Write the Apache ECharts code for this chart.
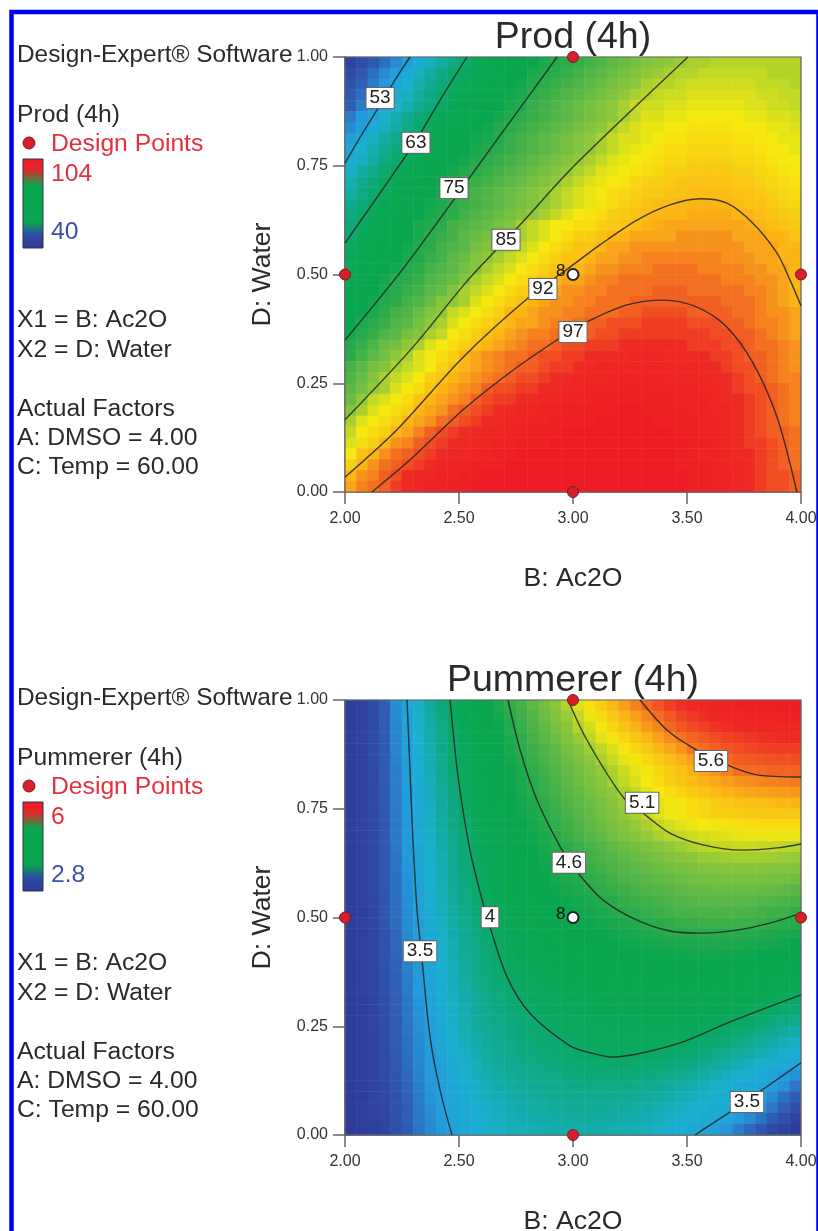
<!DOCTYPE html>
<html><head><meta charset="utf-8">
<style>html,body{margin:0;padding:0;background:#fff}#c{width:818px;height:1231px}</style>
<script src="https://cdn.jsdelivr.net/npm/echarts@6/dist/echarts.min.js"></script>
</head><body><div id="c"></div>
<script>
// Prod (4h): 40 rows (top y=1 to bottom y=0) x 40 columns (x=2 to 4)
const prodValues = [
[43,45,47,49,51,53,55,57,59,61,63,65,66,68,69,71,72,74,75,76,77,78,79,80,81,82,83,83.5,84,84.5,85,85,85.5,85.5,85.5,85.5,85.5,85.5,85.5,85.5],
[45,47,49,51,53,55,57,59,61,63,64,66,67,69,71,72,74,75,76,77,78,79,80,81,82,83,84,84.5,85,85.5,85.5,86,86,86,86,86,86,85.5,85.5,85.5],
[46,48,50,52,54,56,58,60,62,64,65,67,69,70,72,73,75,76,77,78,79,80,81,82,83,84,85,85.5,85.5,86,86.5,86.5,86.5,86.5,86.5,86.5,86,86,86,85.5],
[47,49,51,53,55,57,59,61,63,65,67,68,70,71,73,74,76,77,78,79,80,81,82,83,84,85,85.5,86,86.5,86.5,87,87,87,87,87,87,86.5,86.5,86,86],
[48,50,52,54,56,58,60,62,64,66,68,69,71,72,74,75,77,78,79,80,81,82,83,84,85,86,86.5,86.5,87,87,87.5,87.5,87.5,87.5,87.5,87,87,86.5,86.5,86],
[50,52,54,56,58,60,62,64,66,67,69,70,72,73,75,76,77,78,79,80,81,82,83,84,85,86,87,87,87.5,87.5,88,88,88,88,88,87.5,87.5,87,87,86.5],
[51,53,55,57,59,61,63,65,66,68,70,71,73,75,76,77,78,79,80,81,82,83,84,85,86,87,87.5,87.5,88,88,88.5,88.5,88.5,88.5,88,88,88,87.5,87.5,87],
[53,55,57,59,61,62,64,66,68,70,71,73,74,75,77,78,79,80,81,82,83,84,85,86,87,87,87.5,88,88.5,88.5,89,89,89,89,88.5,88.5,88,88,87.5,87.5],
[54,56,58,60,62,64,66,67,69,71,72,74,75,76,77,78,79,80,81,82,83,84,85,86,87,87.5,88,88.5,89,89,89.5,89.5,89.5,89.5,89,89,88.5,88,88,87.5],
[55,57,59,61,63,65,67,68,70,71,73,75,76,77,78,79,80,81,82,83,84,85,86,87,87.5,88,88.5,89,89.5,89.5,90,90,90,90,89.5,89.5,89,88.5,88,88],
[57,59,61,63,65,67,69,70,72,73,75,76,77,78,79,80,81,82,83,84,85,86,87,87.5,88,88.5,89,89.5,90,90,90.5,90.5,90.5,90.5,90,90,89.5,89,88.5,88],
[58,60,62,64,66,68,70,71,73,74,76,77,78,79,80,81,82,83,84,85,86,87,87.5,88,88.5,89.5,90,90,90.5,91,91,91,91,91,90.5,90.5,90,89.5,89,88.5],
[59,61,63,65,67,69,71,72,74,75,77,78,79,80,81,82,83,84,85,86,87,87.5,88,89,89.5,90,90.5,90.5,91,91,91.5,91.5,91.5,91.5,91,91,90.5,90,89.5,89],
[60,62,64,66,68,70,71,73,74,76,77,78,79,80,81,82,83,84,85,86,87,87.5,88.5,89,90,90.5,91,91.5,91.5,92,92,92,92,92,91.5,91,91,90.5,90,89.5],
[61,63,65,67,69,71,72,74,75,76,78,79,80,81,82,83,84,85,86,87,88,88.5,89,90,90.5,91,91.5,92,92,92,92.5,92.5,92.5,92.5,92,92,91.5,91,90.5,90],
[62,64,66,68,70,72,74,75,76,78,79,80,81,82,83,85,86,87,88,88,89,89,90,90.5,91,91.5,92,92.5,93,93,93,93,93,93,93,92.5,92,91.5,91,90.5],
[63,65,67,69,71,72,74,76,77,78,80,81,82,83,84,85,86,87,88,89,90,90,91,92,92,93,93,93,93,94,94,94,94,94,93,93,93,92,92,91],
[64,66,68,70,72,73,75,76,78,79,80,82,83,84,85,86,87,88,89,90,91,91,92,93,93,94,94,94,94,94,94,94,94,94,94,93,93,93,92,92],
[65,67,69,70,72,74,75,77,78,80,81,83,84,85,86,87,88,89,90,91,91,92,93,93,94,94,95,95,95,95,95,95,95,94,94,94,93,93,92,92],
[66,68,70,71,73,75,76,78,79,80,82,83,85,86,87,88,89,90,91,92,92,93,94,94,95,95,95,96,96,96,96,95,95,95,95,94,94,93,93,92],
[67,69,71,73,75,76,77,79,80,81,83,85,86,87,88,89,90,91,92,93,93,94,95,95,96,96,96,96,96,96,96,96,96,95,95,95,94,94,93,92],
[68,70,72,74,75,77,78,80,81,83,85,86,87,88,89,90,91,92,93,94,94,95,95,96,96,96,96,97,97,97,96,96,96,96,96,95,95,94,93,92],
[69,71,73,75,76,78,79,81,83,84,85,87,88,89,90,91,92,93,94,94,95,95,96,96,96,97,97,97,97,97,97,97,97,96,96,96,95,94,93,92],
[70,72,74,76,78,79,81,83,84,86,87,88,89,90,92,92,93,94,94,95,95,96,96,96,97,97,98,98,98,98,97,97,97,97,96,96,95,94,94,93],
[71,74,76,77,79,80,82,84,85,87,88,89,90,91,92,93,93,94,95,95,96,97,97,98,98,98,99,99,99,99,98,98,98,97,97,96,95,95,94,93],
[73,75,77,79,80,82,83,85,86,88,89,90,91,92,93,94,95,95,96,96,97,97,98,98,99,99,99,99,99,99,99,99,98,98,97,97,96,95,94,93],
[75,77,79,81,82,84,85,87,88,89,90,91,92,93,94,95,96,96,97,98,98,99,99,99,100,100,100,100,100,100,99,99,99,98,98,97,96,96,95,94],
[76,78,80,82,84,85,87,88,89,90,92,93,94,95,96,96,97,98,98,99,99,100,100,100,100,101,101,101,100,100,100,100,99,99,98,97,97,96,95,94],
[78,80,82,83,85,86,87,88,90,91,92,93,94,95,96,97,97,98,99,99,100,100,101,101,101,101,101,101,101,101,101,100,100,99,98,98,97,96,95,94],
[79,81,83,85,86,87,88,90,91,92,93,94,95,96,97,98,98,99,100,100,101,101,101,102,102,102,102,102,101,101,101,101,100,100,99,98,97,96,95,95],
[80,82,84,85,87,88,89,91,92,93,94,95,97,98,98,99,99,100,100,101,101,102,102,102,103,103,102,102,102,102,102,101,101,100,99,98,98,97,96,95],
[81,84,86,87,88,89,91,92,93,94,95,97,98,99,99,100,100,101,101,102,102,102,103,103,103,103,103,103,103,102,102,102,101,100,100,99,98,97,96,95],
[83,85,87,88,89,90,92,93,94,96,97,98,99,100,100,101,101,102,102,103,103,103,103,103,104,104,103,103,103,103,102,102,101,101,100,99,98,97,96,95],
[85,87,88,89,90,92,93,94,96,97,98,99,100,100,101,101,102,102,103,103,103,103,104,104,104,104,104,103,103,103,103,102,102,101,100,99,98,97,96,95],
[86,88,89,90,92,93,95,97,98,99,100,100,101,101,102,102,103,103,103,104,104,104,104,104,104,104,104,104,104,103,103,102,102,101,100,99,98,97,97,96],
[87,89,90,92,94,95,97,98,99,100,100,101,101,102,102,103,103,103,104,104,104,104,104,104,104,104,104,104,104,104,103,103,102,101,100,99,99,98,97,96],
[88,91,92,94,96,97,98,99,100,101,101,102,102,103,103,104,104,104,104,104,104,104,104,104,104,104,104,104,104,103,103,102,102,101,100,100,99,98,97,96],
[90,92,94,96,97,98,99,100,101,102,102,103,103,103,104,104,104,104,104,104,104,104,104,104,104,104,104,104,104,103,103,103,102,101,101,100,99,98,97,96],
[92,94,95,97,98,100,101,101,102,102,103,103,104,104,104,104,104,104,104,104,104,104,104,104,104,104,104,104,104,104,103,103,102,102,101,100,99,98,98,97],
[93,95,96,97,99,100,101,102,102,103,103,104,104,104,104,104,104,104,104,104,104,104,104,104,104,104,104,104,104,104,103,103,102,102,101,100,99,98,98,97]
];
// Pummerer (4h), in hundredths: 40 rows (top y=1 to bottom y=0) x 40 columns
const pummererHundredths = [
[288,296,306,320,336,351,364,377,390,403,415,427,439,451,462,471,480,489,498,507,515,523,531,539,547,555,562,568,574,579,583,586,589,591,593,595,596,597,598,598],
[288,296,306,319,335,349,362,375,388,401,413,424,435,447,458,467,476,485,494,502,510,518,526,533,540,547,554,561,567,572,576,579,582,584,586,588,589,590,591,592],
[288,296,305,319,334,348,361,373,386,398,410,421,432,443,455,464,473,482,491,499,507,513,521,528,535,541,548,554,562,567,571,574,577,579,581,583,584,585,586,586],
[288,295,305,318,333,347,360,372,384,396,408,419,430,441,452,461,470,478,486,494,502,509,516,522,528,534,540,546,552,558,563,567,570,573,575,577,578,579,580,580],
[288,295,305,318,333,347,359,371,383,395,406,416,427,438,449,458,466,474,481,489,496,503,509,515,521,527,533,539,545,550,558,561,565,568,570,572,574,575,575,575],
[288,295,305,318,332,346,358,370,382,394,405,415,426,436,447,456,464,472,479,486,493,499,505,511,517,522,527,532,537,542,547,552,558,562,565,567,568,569,569,570],
[288,295,304,317,331,345,357,369,381,393,403,413,423,433,443,452,461,469,476,483,489,495,501,506,512,517,522,527,532,536,541,546,551,555,560,561,562,563,563,564],
[288,295,304,317,331,344,356,368,379,391,401,411,421,431,441,450,459,466,473,480,487,493,498,504,510,515,520,525,530,534,538,541,544,547,550,552,554,555,556,557],
[288,295,304,316,330,343,355,367,378,389,399,409,419,429,439,448,456,464,471,477,483,489,495,500,506,511,516,520,524,528,532,535,538,541,543,545,546,547,548,549],
[288,295,304,316,330,342,354,366,377,388,398,408,418,427,436,445,453,461,468,474,480,486,491,497,502,507,512,516,519,522,525,528,531,533,535,536,537,538,539,540],
[288,295,303,315,329,342,354,365,376,387,397,406,416,425,433,442,450,458,465,471,477,483,489,494,500,505,511,515,519,522,525,527,529,530,531,532,533,533,533,533],
[288,295,303,315,329,342,353,364,375,386,395,404,413,422,431,439,447,455,462,468,474,480,486,491,496,501,505,510,513,516,518,520,522,523,524,525,525,525,525,525],
[288,294,303,315,328,341,352,363,374,384,393,402,411,420,428,436,444,452,459,465,471,477,483,488,493,497,501,505,508,510,512,514,515,516,517,518,518,518,518,518],
[288,294,303,315,328,340,351,362,372,382,392,401,410,418,426,434,441,448,455,460,466,471,476,481,485,489,493,497,500,503,506,508,510,510,511,511,510,510,509,508],
[288,294,302,314,327,340,351,361,371,381,391,400,408,416,424,431,439,446,452,459,464,469,473,477,481,485,488,491,494,497,499,501,502,503,504,504,504,503,502,501],
[287,294,302,314,327,339,350,360,370,380,390,398,406,414,422,429,436,443,449,454,460,465,469,473,477,480,483,486,489,491,493,495,496,497,497,497,497,496,495,494],
[287,294,302,314,326,338,349,359,369,379,388,396,404,412,420,427,434,441,447,451,456,461,465,469,473,476,479,482,484,486,488,489,490,491,491,491,491,490,489,487],
[287,294,302,313,326,338,348,358,368,378,386,394,402,410,417,424,431,437,443,448,452,456,461,465,468,471,474,477,479,481,483,484,485,485,485,485,484,483,481,479],
[287,294,301,313,325,337,347,357,367,377,385,393,401,408,415,422,428,433,438,443,447,451,455,459,463,466,469,471,473,475,477,478,479,479,479,478,477,476,474,472],
[287,293,301,312,325,336,347,356,366,375,383,391,399,406,412,418,424,429,434,439,443,447,451,454,458,461,464,466,469,471,472,473,473,473,473,472,470,468,466,463],
[287,293,301,312,324,336,346,355,365,374,382,390,397,404,410,416,421,426,431,435,439,443,446,449,452,455,458,460,462,464,465,466,467,467,467,466,464,462,459,456],
[287,293,300,311,323,335,345,354,363,372,380,388,395,402,408,413,418,423,427,431,435,438,441,444,447,450,452,454,456,457,458,458,458,458,458,457,455,453,450,448],
[287,293,300,311,323,334,344,353,362,371,379,386,393,399,405,410,415,419,423,427,431,434,437,440,442,444,446,447,449,450,450,451,451,451,450,449,447,445,442,440],
[287,292,300,310,322,333,343,352,361,370,378,385,391,397,403,408,412,416,420,424,427,430,433,435,437,439,441,442,443,444,445,445,445,444,443,442,440,438,435,432],
[286,292,299,310,321,332,342,351,360,368,376,383,389,395,400,405,409,413,417,420,423,426,428,430,432,434,436,437,438,439,439,439,439,438,437,435,433,431,428,425],
[286,292,299,309,320,331,341,350,359,367,375,382,388,393,398,402,406,410,413,416,419,422,424,426,428,430,431,432,433,433,433,433,433,432,430,428,426,424,421,418],
[286,292,298,309,320,330,340,349,358,366,373,380,386,391,395,399,403,407,410,413,416,418,420,422,424,426,427,428,428,428,428,428,427,426,424,422,419,416,413,410],
[286,291,298,308,319,329,339,348,357,365,372,378,384,388,392,396,400,403,406,409,412,414,416,418,420,421,422,423,423,423,423,422,421,420,418,416,413,410,404,399],
[286,291,298,308,319,329,338,347,356,364,371,377,382,386,390,394,397,400,403,406,408,410,412,414,415,416,417,417,417,416,415,414,413,411,409,406,402,398,394,390],
[285,291,297,307,318,328,337,346,355,363,370,376,381,385,388,391,394,397,399,401,403,405,407,408,410,411,411,411,411,410,409,408,406,404,401,398,394,390,386,382],
[285,290,297,306,317,327,336,345,353,361,368,374,379,383,386,389,392,394,396,398,400,402,403,405,406,406,407,406,406,405,404,401,399,396,393,389,385,381,377,373],
[285,290,296,306,316,326,335,344,352,359,366,372,377,381,384,387,390,392,394,396,398,400,402,403,403,403,403,402,401,400,398,396,393,390,386,382,378,374,369,365],
[285,290,296,305,315,325,334,343,351,358,364,370,375,379,382,385,387,390,392,394,396,398,399,400,400,400,399,398,396,394,392,389,386,382,378,374,370,366,361,357],
[284,290,295,305,314,324,333,342,349,356,362,368,373,377,380,383,385,387,389,391,393,394,395,396,396,395,394,392,390,388,385,382,378,374,370,366,361,357,353,349],
[284,289,295,304,313,323,332,340,348,354,360,366,371,375,378,380,382,384,386,388,389,390,391,391,390,389,388,386,384,381,378,374,370,366,361,358,355,351,345,338],
[283,289,294,303,312,322,331,339,346,352,358,363,368,372,375,377,379,381,383,384,385,386,386,386,385,384,382,380,377,374,371,367,363,360,356,353,351,346,338,328],
[283,288,294,302,311,321,330,338,345,351,356,361,366,369,372,374,376,378,380,381,382,382,382,382,381,379,377,375,372,369,366,363,359,356,353,351,344,335,326,317],
[282,288,293,301,310,320,329,337,344,350,355,359,363,367,370,372,374,375,377,378,379,379,379,378,377,375,373,371,368,365,362,359,356,354,351,344,337,328,319,308],
[282,287,292,300,309,319,328,336,343,349,354,358,362,365,368,370,372,373,374,375,376,376,375,374,373,372,370,367,364,361,358,356,353,349,342,335,327,318,308,298],
[281,286,291,299,308,318,327,335,342,348,353,357,361,364,366,368,370,371,372,373,373,373,372,371,370,369,367,364,361,358,354,351,346,339,331,323,314,304,294,284]
];
// Contours, [B: Ac2O, D: Water]
const prodContours = [
 [[2,.756],[2.075,.823],[2.154,.89],[2.219,.947],[2.285,1]],
 [[2,.572],[2.132,.671],[2.263,.77],[2.311,.807],[2.417,.901],[2.535,1]],
 [[2,.349],[2.25,.51],[2.461,.66],[2.548,.724],[2.746,.867],[2.93,1]],
 [[2,.166],[2.298,.333],[2.539,.487],[2.759,.609],[2.987,.74],[3.25,.874],[3.504,1]],
 [[2,.034],[2.228,.143],[2.518,.31],[2.803,.446],[2.987,.517],[3.118,.568],[3.281,.625],[3.425,.66],[3.557,.674],[3.675,.664],[3.789,.618],[3.895,.549],[3.952,.487],[4,.428]],
 [[2.118,0],[2.298,.08],[2.518,.189],[2.737,.28],[2.943,.354],[3.061,.391],[3.237,.43],[3.395,.441],[3.544,.425],[3.675,.379],[3.789,.297],[3.895,.172],[3.982,0]]
];
const pummererContours = [
 [[2.272,1],[2.285,.839],[2.298,.678],[2.316,.517],[2.338,.402],[2.373,.225],[2.417,.103],[2.469,0]],
 [[2.461,1],[2.496,.823],[2.548,.655],[2.605,.533],[2.636,.478],[2.711,.363],[2.811,.28],[2.987,.205],[3.075,.189],[3.175,.179],[3.307,.189],[3.482,.214],[3.689,.26],[4,.322]],
 [[2.715,1],[2.768,.885],[2.842,.77],[2.952,.655],[3.022,.602],[3.132,.54],[3.281,.494],[3.425,.469],[3.57,.464],[3.719,.471],[3.864,.487],[4,.51]],
 [[2.978,1],[3.061,.908],[3.219,.777],[3.307,.74],[3.425,.694],[3.57,.667],[3.746,.655],[3.895,.66],[4,.669]],
 [[3.294,1],[3.412,.931],[3.526,.89],[3.675,.851],[3.807,.828],[4,.823]],
 [[3.535,0],[3.689,.053],[3.842,.108],[4,.166]]
];
const prodLabels = [[2.154,.908,'53'],[2.311,.805,'63'],[2.478,.701,'75'],[2.706,.582,'85'],[2.868,.469,'92'],[3,.37,'97']];
const pummererLabels = [[2.329,.425,'3.5'],[2.636,.503,'4'],[2.982,.628,'4.6'],[3.303,.766,'5.1'],[3.605,.862,'5.6'],[3.763,.078,'3.5']];
const designPoints = [[2,.5],[3,1],[3,0],[4,.5]];
const centerPoint = [[3,.5,'8']];
const xTicks = {min:2,max:4,interval:.5};
const yTicks = {min:0,max:1,interval:.25};
const panels = [
 {title:'Prod (4h)',values:prodValues,scale:1,contours:prodContours,labels:prodLabels,min:40,max:104,hi:'104',lo:'40',top:57},
 {title:'Pummerer (4h)',values:pummererHundredths,scale:100,contours:pummererContours,labels:pummererLabels,min:2.8,max:6,hi:'6',lo:'2.8',top:700}
];
const ramp = ['#2f3a97','#2f45a0','#2f5fb5','#2499dc','#1bb0d0','#10aa92','#0ba85f','#0aa650','#0aa64f','#2cab4b','#5cb847','#8fc83a','#f5e90f','#fbb616','#f37021','#ee2a24','#ed1c24'];
const FONT='"Liberation Sans",Arial,sans-serif', INK='#2a2a2a';
const option = {animation:false,backgroundColor:'#fff',title:[],grid:[],xAxis:[],yAxis:[],visualMap:[],series:[],graphic:[]};
const g = option.graphic;
function txt(x,y,t,size,color){g.push({type:'text',x,y,style:{text:t,font:size+'px '+FONT,fill:color||INK,verticalAlign:'middle'},z:10});}
g.push({type:'rect',shape:{x:11.5,y:12,width:807,height:1300},style:{fill:'none',stroke:'#0000f0',lineWidth:4.5},z:20});
const cats=[...Array(40).keys()];
panels.forEach((p,i)=>{
 const xv=i*2,xc=i*2+1;
 const d=p.top-57;
 option.grid.push({left:345,top:p.top,width:456,height:435,outerBoundsMode:'none',containLabel:false});
 option.title.push({text:p.title,left:568,top:p.top-24,textAlign:'center',textVerticalAlign:'middle',textStyle:{fontFamily:FONT,fontSize:37.5,fontWeight:'normal',color:INK}});
 option.xAxis.push({type:'value',gridIndex:i,...xTicks,name:'B: Ac2O',nameLocation:'middle',nameGap:73,nameTextStyle:{fontFamily:FONT,fontSize:26.6,color:INK},
   axisLine:{lineStyle:{color:'#666',width:1.5}},axisTick:{length:12,lineStyle:{color:'#666',width:1.5}},splitLine:{show:false},
   axisLabel:{margin:19,fontFamily:FONT,fontSize:16,color:'#333',formatter:v=>v.toFixed(2),showMinLabel:true,showMaxLabel:true,hideOverlap:false}});
 option.xAxis.push({type:'category',gridIndex:i,data:cats,show:false});
 option.yAxis.push({type:'value',gridIndex:i,...yTicks,name:'D: Water',nameLocation:'middle',nameGap:69,nameTextStyle:{fontFamily:FONT,fontSize:26.6,color:INK},
   axisLine:{lineStyle:{color:'#666',width:1.5}},axisTick:{length:12,lineStyle:{color:'#666',width:1.5}},splitLine:{show:false},
   axisLabel:{margin:17,fontFamily:FONT,fontSize:16,color:'#333',formatter:v=>v.toFixed(2)}});
 option.yAxis.push({type:'category',gridIndex:i,data:cats,show:false});
 const cells=[];
 p.values.forEach((row,r)=>row.forEach((v,c)=>cells.push([c,39-r,v/p.scale])));
 const heatIdx=option.series.length;
 option.visualMap.push({show:false,type:'continuous',min:p.min,max:p.max,dimension:2,seriesIndex:heatIdx,inRange:{color:ramp}});
 option.series.push({type:'heatmap',xAxisIndex:xc,yAxisIndex:xc,data:cells,progressive:0,z:1});
 p.contours.forEach(line=>option.series.push({type:'line',xAxisIndex:xv,yAxisIndex:xv,data:line,smooth:.3,symbol:'none',lineStyle:{color:'#222',width:1.4,opacity:.85},z:3}));
 option.series.push({type:'scatter',xAxisIndex:xv,yAxisIndex:xv,data:p.labels,symbolSize:1,itemStyle:{color:'transparent',opacity:1},z:4,
   label:{show:true,position:'inside',offset:[0,1],formatter:o=>o.value[2],fontFamily:FONT,fontSize:19,color:'#222',backgroundColor:'#fff',borderColor:'#666',borderWidth:1,padding:[1,3,0,3]}});
 option.series.push({type:'scatter',xAxisIndex:xv,yAxisIndex:xv,data:designPoints,clip:false,symbolSize:11,itemStyle:{color:'#d71f2b',borderColor:'#7a1c20',borderWidth:1,opacity:1},z:5});
 option.series.push({type:'scatter',xAxisIndex:xv,yAxisIndex:xv,data:centerPoint,clip:false,symbolSize:11,itemStyle:{color:'#fff',borderColor:'#222',borderWidth:2,opacity:1},z:6,
   label:{show:true,position:'left',distance:1,offset:[0,-3],formatter:o=>o.value[2],fontFamily:FONT,fontSize:17,color:'#111'}});
 g.push({type:'rect',shape:{x:345,y:p.top,width:456,height:435},style:{fill:'none',stroke:'#666',lineWidth:1.2},z:2});
 const F=24.7;
 txt(17,55.5+d,'Design-Expert® Software',24.4);
 txt(17,115.5+d,p.title,F);
 g.push({type:'circle',shape:{cx:29,cy:143+d,r:6},style:{fill:'#d71f2b',stroke:'#7a1c20',lineWidth:1},z:10});
 txt(51,144.5+d,'Design Points',F,'#e4303c');
 g.push({type:'rect',shape:{x:23,y:159+d,width:20,height:89},z:10,style:{stroke:'#2a3350',lineWidth:1,fill:{type:'linear',x:0,y:0,x2:0,y2:1,colorStops:[{offset:0,color:'#ed1c24'},{offset:.13,color:'#e0282a'},{offset:.3,color:'#0aa64f'},{offset:.7,color:'#0aa64f'},{offset:.85,color:'#2e4ba5'},{offset:1,color:'#2e3a97'}]}}});
 txt(51,174.5+d,p.hi,F,'#e4303c');
 txt(51,232.5+d,p.lo,F,'#3f4fa8');
 txt(17,320.5+d,'X1 = B: Ac2O',F);
 txt(17,350.5+d,'X2 = D: Water',F);
 txt(17,409.5+d,'Actual Factors',F);
 txt(17,438.5+d,'A: DMSO = 4.00',F);
 txt(17,467.5+d,'C: Temp = 60.00',F);
});
echarts.init(document.getElementById('c'),null,{renderer:'canvas'}).setOption(option);
</script></body></html>
